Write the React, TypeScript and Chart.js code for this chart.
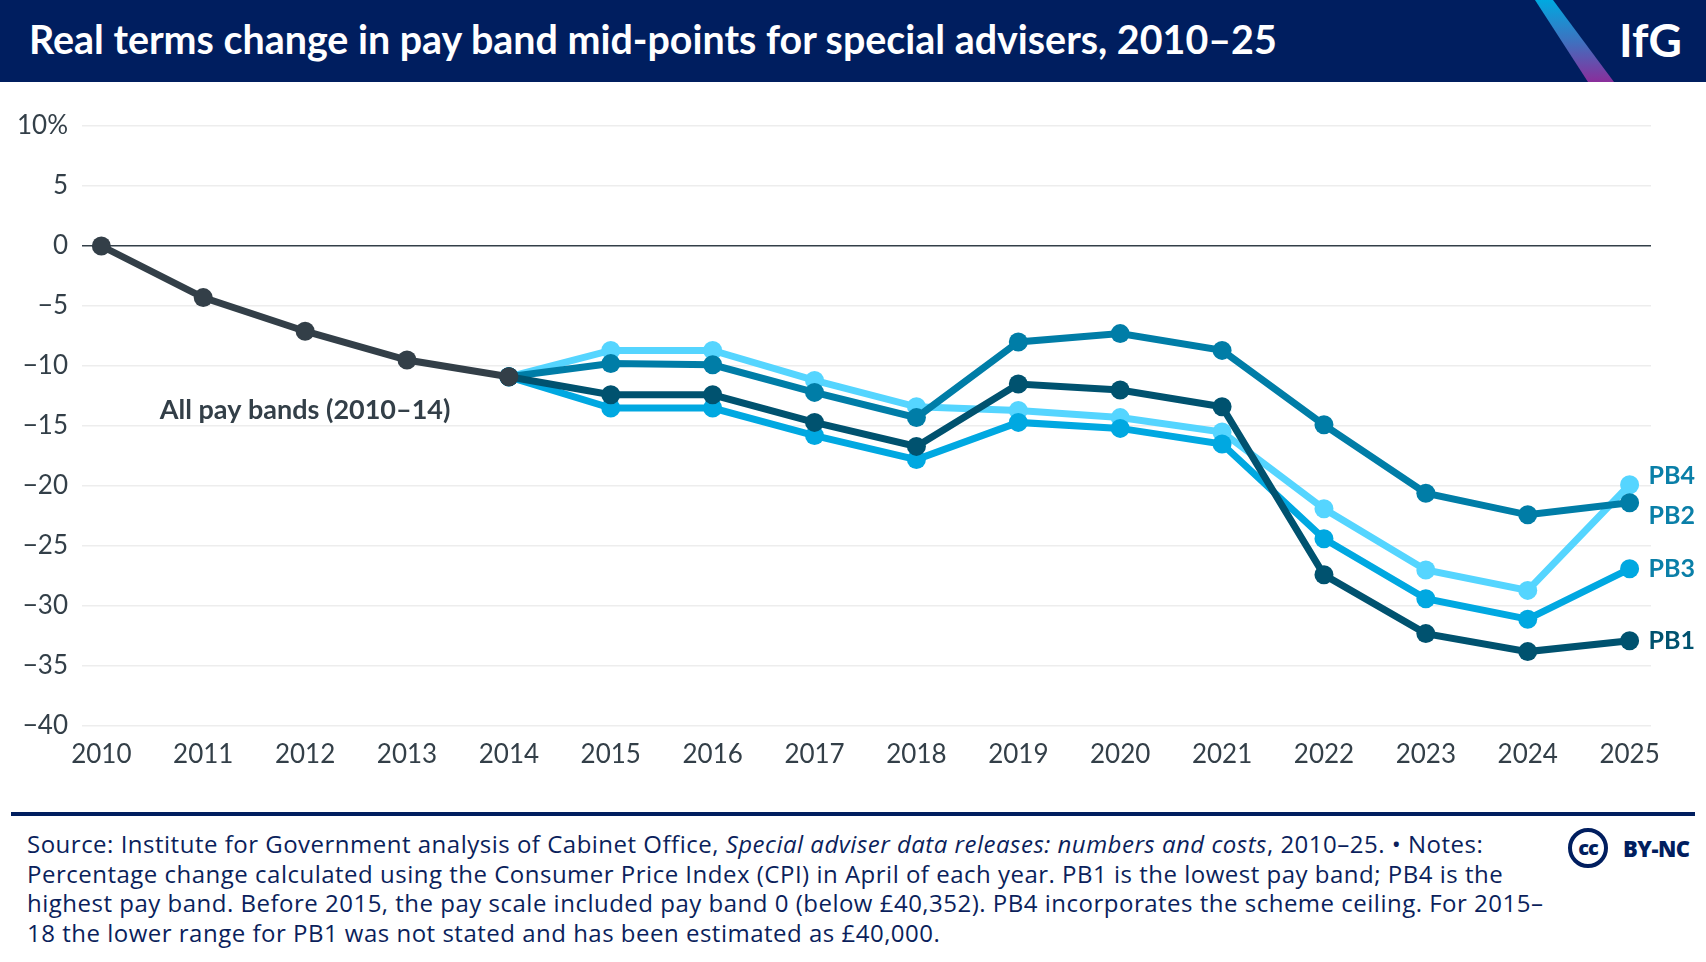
import { useEffect, useRef } from 'react';
import { Chart, ChartConfiguration, registerables } from 'chart.js';

Chart.register(...registerables);

// years on the x axis
const years = [2010, 2011, 2012, 2013, 2014, 2015, 2016, 2017, 2018, 2019, 2020, 2021, 2022, 2023, 2024, 2025];

// All pay bands, 2010–14
const allBandsYears = [2010, 2011, 2012, 2013, 2014];
const allBands = [0, -4.3, -7.1, -9.5, -10.9];

// separate pay bands, 2014–25
const bandYears = [2014, 2015, 2016, 2017, 2018, 2019, 2020, 2021, 2022, 2023, 2024, 2025];
const pb1 = [-10.9, -12.4, -12.4, -14.7, -16.7, -11.5, -12.0, -13.4, -27.4, -32.3, -33.8, -32.9];
const pb2 = [-10.9, -9.8, -9.9, -12.2, -14.3, -8.0, -7.3, -8.7, -14.9, -20.6, -22.4, -21.4];
const pb3 = [-10.9, -13.5, -13.5, -15.8, -17.8, -14.7, -15.2, -16.5, -24.4, -29.4, -31.1, -26.9];
const pb4 = [-10.9, -8.7, -8.7, -11.2, -13.4, -13.7, -14.3, -15.5, -21.9, -27.0, -28.7, -19.9];

const yTicks = [10, 5, 0, -5, -10, -15, -20, -25, -30, -35, -40];

const NAVY = '#001e5f';
const INK = '#333f48';
const FONT = 'Lato, "Noto Sans", sans-serif';
const TEXT_FONT = '"Open Sans", "Noto Sans", sans-serif';

const toPoints = (xs: number[], ys: number[]) => xs.map((x, i) => ({ x, y: ys[i] }));

// end labels next to the 2025 points
const endLabels = [
  { name: 'PB4', values: pb4, color: '#0a7fa8', nudge: -9 },
  { name: 'PB2', values: pb2, color: '#0a7fa8', nudge: 13 },
  { name: 'PB3', values: pb3, color: '#0a7fa8', nudge: 0 },
  { name: 'PB1', values: pb1, color: '#00526f', nudge: 0 },
];

const labelPlugin = {
  id: 'labels',
  afterDatasetsDraw(chart: Chart) {
    const { ctx, scales } = chart;
    const xs = scales.x;
    const ys = scales.y;
    ctx.save();
    ctx.font = `bold 25px ${FONT}`;
    ctx.textBaseline = 'middle';
    ctx.textAlign = 'left';
    const lastYear = bandYears[bandYears.length - 1];
    endLabels.forEach((l) => {
      ctx.fillStyle = l.color;
      const v = l.values[l.values.length - 1];
      ctx.fillText(l.name, xs.getPixelForValue(lastYear) + 19, ys.getPixelForValue(v) + l.nudge);
    });
    ctx.fillStyle = INK;
    ctx.textAlign = 'center';
    ctx.font = `bold 27px ${FONT}`;
    ctx.fillText('All pay bands (2010\u201314)', xs.getPixelForValue(2012), ys.getPixelForValue(-13.7));
    ctx.restore();
  },
};

function PayChart() {
  const chartRef = useRef<HTMLCanvasElement>(null);
  const chartInstance = useRef<Chart | null>(null);

  useEffect(() => {
    if (!chartRef.current) return;
    if (chartInstance.current) chartInstance.current.destroy();

    const line = (label: string, data: { x: number; y: number }[], color: string) => ({
      label,
      data,
      borderColor: color,
      backgroundColor: color,
      borderWidth: 7,
      pointRadius: 9.5,
      pointHoverRadius: 9.5,
      pointBorderWidth: 0,
      tension: 0,
    });

    const config: ChartConfiguration = {
      type: 'line',
      data: {
        datasets: [
          line('All pay bands', toPoints(allBandsYears, allBands), INK),
          line('PB1', toPoints(bandYears, pb1), '#00526f'),
          line('PB2', toPoints(bandYears, pb2), '#007da7'),
          line('PB3', toPoints(bandYears, pb3), '#00a8e1'),
          line('PB4', toPoints(bandYears, pb4), '#55d5ff'),
        ] as any,
      },
      options: {
        responsive: true,
        maintainAspectRatio: false,
        animation: false,
        layout: { padding: { top: 44, right: 55, left: 0, bottom: 0 } },
        plugins: {
          legend: { display: false },
          title: { display: false },
          tooltip: { enabled: false },
        },
        scales: {
          x: {
            type: 'linear',
            min: 2009.81,
            max: 2025.21,
            afterBuildTicks: (scale: any) => {
              scale.ticks = years.map((v) => ({ value: v }));
            },
            afterFit: (scale: any) => {
              scale.height = 76;
            },
            grid: { display: false },
            border: { display: false },
            ticks: {
              color: INK,
              font: { family: FONT, size: 26 },
              padding: 5,
              maxRotation: 0,
              autoSkip: false,
              callback: (v: any) => String(v),
            },
          },
          y: {
            min: -40,
            max: 10,
            afterBuildTicks: (scale: any) => {
              scale.ticks = yTicks.map((v) => ({ value: v }));
            },
            afterFit: (scale: any) => {
              scale.width = 82;
            },
            border: { display: false },
            grid: {
              drawTicks: false,
              color: (c: any) => (c.tick && c.tick.value === 0 ? INK : '#ededed'),
              lineWidth: 1.5,
            },
            ticks: {
              color: INK,
              font: { family: FONT, size: 26 },
              padding: 14,
              callback: (v: any) => (v === 10 ? '10%' : v < 0 ? '\u2212' + Math.abs(v) : String(v)),
            },
          },
        },
      },
      plugins: [labelPlugin],
    };

    chartInstance.current = new Chart(chartRef.current, config);

    return () => {
      if (chartInstance.current) {
        chartInstance.current.destroy();
        chartInstance.current = null;
      }
    };
  }, []);

  return (
    <div style={{ position: 'absolute', top: 82, left: 0, width: 1706, height: 720 }}>
      <canvas ref={chartRef}></canvas>
    </div>
  );
}

export default function App() {
  useEffect(() => {
    document.body.style.margin = '0';
  }, []);

  return (
    <div style={{ position: 'relative', width: 1706, height: 962, background: '#fff', fontFamily: FONT, overflow: 'hidden' }}>
      <div style={{ position: 'absolute', top: 0, left: 0, width: 1706, height: 82, background: NAVY }}>
        <div
          style={{
            position: 'absolute',
            left: 29,
            top: 16,
            color: '#fff',
            fontWeight: 'bold',
            fontSize: 39.4,
            lineHeight: '46px',
            whiteSpace: 'nowrap',
          }}
        >
          Real terms change in pay band mid-points for special advisers, 2010–25
        </div>
        <svg width="1706" height="82" style={{ position: 'absolute', top: 0, left: 0 }}>
          <defs>
            <linearGradient id="stripe" x1="0" y1="0" x2="0" y2="1">
              <stop offset="0" stopColor="#00a9e0" />
              <stop offset="0.5" stopColor="#3d72c0" />
              <stop offset="1" stopColor="#8a2e9b" />
            </linearGradient>
          </defs>
          <polygon points="1535,0 1553,0 1614,82 1588,82" fill="url(#stripe)" />
        </svg>
        <div
          style={{
            position: 'absolute',
            left: 1619,
            top: 13,
            color: '#fff',
            fontWeight: 'bold',
            fontSize: 46,
            lineHeight: '54px',
          }}
        >
          IfG
        </div>
      </div>

      <PayChart />

      <div style={{ position: 'absolute', top: 812, left: 11, width: 1684, height: 4, background: NAVY }} />
      <div
        style={{
          position: 'absolute',
          top: 829,
          left: 27,
          color: '#0b1f5c',
          fontFamily: TEXT_FONT,
          fontSize: 24,
          letterSpacing: 0.5,
          lineHeight: '29.7px',
          whiteSpace: 'nowrap',
        }}
      >
        <div>
          Source: Institute for Government analysis of Cabinet Office, <i>Special adviser data releases: numbers and costs</i>, 2010–25. • Notes:
        </div>
        <div>
          Percentage change calculated using the Consumer Price Index (CPI) in April of each year. PB1 is the lowest pay band; PB4 is the
        </div>
        <div>
          highest pay band. Before 2015, the pay scale included pay band 0 (below £40,352). PB4 incorporates the scheme ceiling. For 2015–
        </div>
        <div>18 the lower range for PB1 was not stated and has been estimated as £40,000.</div>
      </div>
      <div
        style={{
          position: 'absolute',
          left: 1568,
          top: 828,
          width: 32,
          height: 32,
          border: `4px solid ${NAVY}`,
          borderRadius: '50%',
          color: NAVY,
          fontFamily: TEXT_FONT,
          fontWeight: 800,
          fontSize: 20,
          lineHeight: '31px',
          textAlign: 'center',
          letterSpacing: -1,
        }}
      >
        cc
      </div>
      <div
        style={{
          position: 'absolute',
          left: 1623,
          top: 833,
          color: NAVY,
          fontFamily: TEXT_FONT,
          fontWeight: 800,
          fontSize: 22,
          lineHeight: '30px',
          letterSpacing: -0.5,
        }}
      >
        BY-NC
      </div>
    </div>
  );
}
